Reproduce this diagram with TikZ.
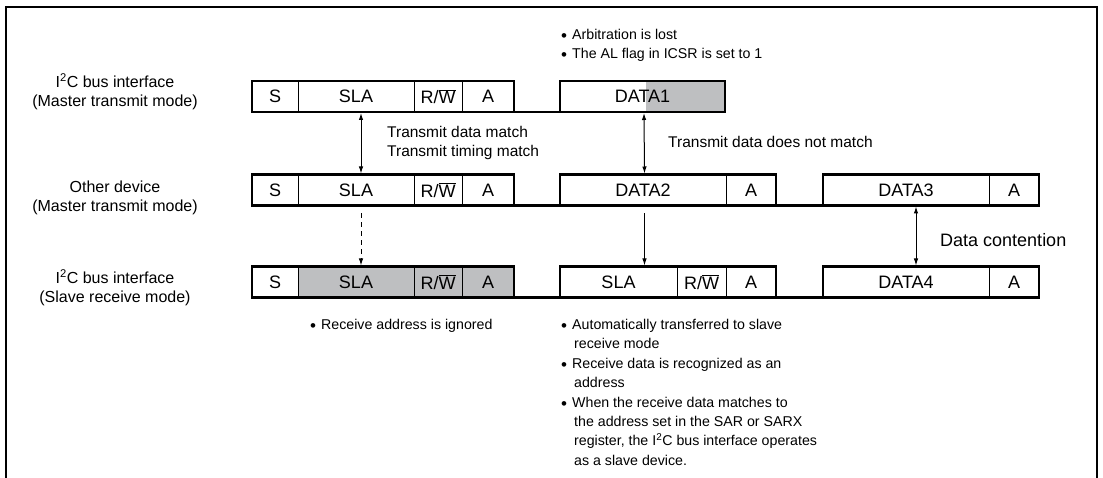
\documentclass[tikz,border=0pt]{standalone}
\usepackage{fontspec}
\setmainfont{Liberation Sans}
\usetikzlibrary{positioning,arrows.meta}

\definecolor{lostgray}{RGB}{190,191,193}
\newcommand{\rwbar}{R/$\overline{\hbox{W}}$}
\newcommand{\dotnote}{\makebox[11pt][l]{\raisebox{-2pt}{\fontsize{17}{17}\selectfont\textbullet}}}
\newcommand{\noteindent}{\hspace*{13pt}}

\tikzset{
  field/.style={draw, line width=1pt, minimum height=31pt, inner sep=0pt,
    outer sep=0pt, font=\fontsize{18}{19}\selectfont},
  group/.style={line width=2.2pt},
  devlabel/.style={align=center, inner sep=0pt, font=\fontsize{16}{19}\selectfont},
  desc/.style={align=left, inner sep=0pt, font=\fontsize{15.5}{19}\selectfont},
  notes/.style={align=left, inner sep=0pt, font=\fontsize{14.2}{19.4}\selectfont},
  sig/.style={line width=1pt, {Latex[length=7pt,width=4.5pt]}-{Latex[length=7pt,width=4.5pt]}},
  oneway/.style={line width=1pt, -{Latex[length=7pt,width=4.5pt]}}
}

\begin{document}
\begin{tikzpicture}[x=1pt,y=-1pt]
\useasboundingbox (0,0) rectangle (1103,478);
% frame, open at the bottom
\draw[line width=2.3pt] (6,478) -- (6,7) -- (1097,7) -- (1097,478);

% device names on the left
\node[devlabel] (dev1) at (115,92) {I\textsuperscript{2}C bus interface\\(Master transmit mode)};
\node[devlabel] (dev2) at (115,198) {Other device\\(Master transmit mode)};
\node[devlabel] (dev3) at (115,288) {I\textsuperscript{2}C bus interface\\(Slave receive mode)};

% first row: I2C bus interface, master transmit
\node[field, minimum width=46pt, anchor=west] (s1) at (252,96.5) {S};
\node[field, minimum width=116pt, right=0pt of s1] (sla1) {SLA};
\node[field, minimum width=48pt, right=0pt of sla1] (rw1) {\rwbar};
\node[field, minimum width=52pt, right=0pt of rw1] (a1) {A};
\node[field, minimum width=165pt, right=46pt of a1,
  path picture={\fill[lostgray] ([xshift=3pt]path picture bounding box.north)
    rectangle (path picture bounding box.south east);}] (data1) {DATA1};

% second row: other device
\node[field, minimum width=46pt, anchor=west] (s2) at (252,190) {S};
\node[field, minimum width=116pt, right=0pt of s2] (sla2) {SLA};
\node[field, minimum width=48pt, right=0pt of sla2] (rw2) {\rwbar};
\node[field, minimum width=52pt, right=0pt of rw2] (a2) {A};
\node[field, minimum width=166pt, right=46pt of a2] (data2) {DATA2};
\node[field, minimum width=50pt, right=0pt of data2] (ack2) {A};
\node[field, minimum width=166pt, right=47pt of ack2] (data3) {DATA3};
\node[field, minimum width=50pt, right=0pt of data3] (ack3) {A};

% third row: I2C bus interface, slave receive
\node[field, minimum width=46pt, anchor=west] (s3) at (252,282) {S};
\node[field, minimum width=116pt, fill=lostgray, right=0pt of s3] (sla3) {SLA};
\node[field, minimum width=48pt, fill=lostgray, right=0pt of sla3] (rw3) {\rwbar};
\node[field, minimum width=52pt, fill=lostgray, right=0pt of rw3] (a3) {A};
\node[field, minimum width=117pt, right=46pt of a3] (sla4) {SLA};
\node[field, minimum width=49pt, right=0pt of sla4] (rw4) {\rwbar};
\node[field, minimum width=50pt, right=0pt of rw4] (ack4) {A};
\node[field, minimum width=166pt, right=47pt of ack4] (data4) {DATA4};
\node[field, minimum width=50pt, right=0pt of data4] (ack5) {\raisebox{-3pt}{A}};

% heavy outlines and the bus line between frames
\draw[group] (s1.north west) rectangle (a1.south east);
\draw[group] (data1.north west) rectangle (data1.south east);
\draw[group] (a1.south east) -- (data1.south west);
\draw[group] (s2.north west) rectangle (a2.south east);
\draw[group] (data2.north west) rectangle (ack2.south east);
\draw[group] (data3.north west) rectangle (ack3.south east);
\draw[group] (a2.south east) -- (data2.south west);
\draw[group] (ack2.south east) -- (data3.south west);
\draw[group] (s3.north west) rectangle (a3.south east);
\draw[group] (sla4.north west) rectangle (ack4.south east);
\draw[group] (data4.north west) rectangle (ack5.south east);
\draw[group] (a3.south east) -- (sla4.south west);
\draw[group] (ack4.south east) -- (data4.south west);

% comparisons between the rows
\draw[sig] ([xshift=5pt,yshift=-1pt]sla1.south) -- ([xshift=5pt,yshift=1pt]sla2.north);
\draw[sig] ([xshift=1.5pt,yshift=-1pt]data1.south) -- ([xshift=1.5pt,yshift=1pt]data2.north);
\draw[sig] ([xshift=10pt,yshift=-1pt]data3.south) -- ([xshift=10pt,yshift=1pt]data4.north);
\draw[oneway, dash pattern=on 5pt off 4pt] ([xshift=5pt,yshift=-8pt]sla2.south) -- ([xshift=5pt,yshift=1pt]sla3.north);
\draw[oneway] ([xshift=1.5pt,yshift=-8pt]data2.south) -- ([xshift=1.5pt,yshift=1pt]data2.south |- sla4.north);

\node[desc, anchor=west] (match) at (387,142.5) {Transmit data match\\Transmit timing match};
\node[desc, anchor=west] (nomatch) at (668,142) {Transmit data does not match};
\node[desc, anchor=west, font=\fontsize{18}{19}\selectfont] (contend) at (940,240) {Data contention};

% bullet notes
\node[notes, anchor=north west] (lost) at (561,29) {\dotnote Arbitration is lost\\
  \dotnote The AL flag in ICSR is set to 1};
\node[notes, anchor=north west] (ignored) at (310,319) {\dotnote Receive address is ignored};
\node[notes, anchor=north west] (slave) at (561,319) {\dotnote Automatically transferred to slave\\
  \noteindent receive mode\\
  \dotnote Receive data is recognized as an\\
  \noteindent address\\
  \dotnote When the receive data matches to\\
  \noteindent the address set in the SAR or SARX\\
  \noteindent register, the I\textsuperscript{2}C bus interface operates\\
  \noteindent as a slave device.};
\end{tikzpicture}
\end{document}
